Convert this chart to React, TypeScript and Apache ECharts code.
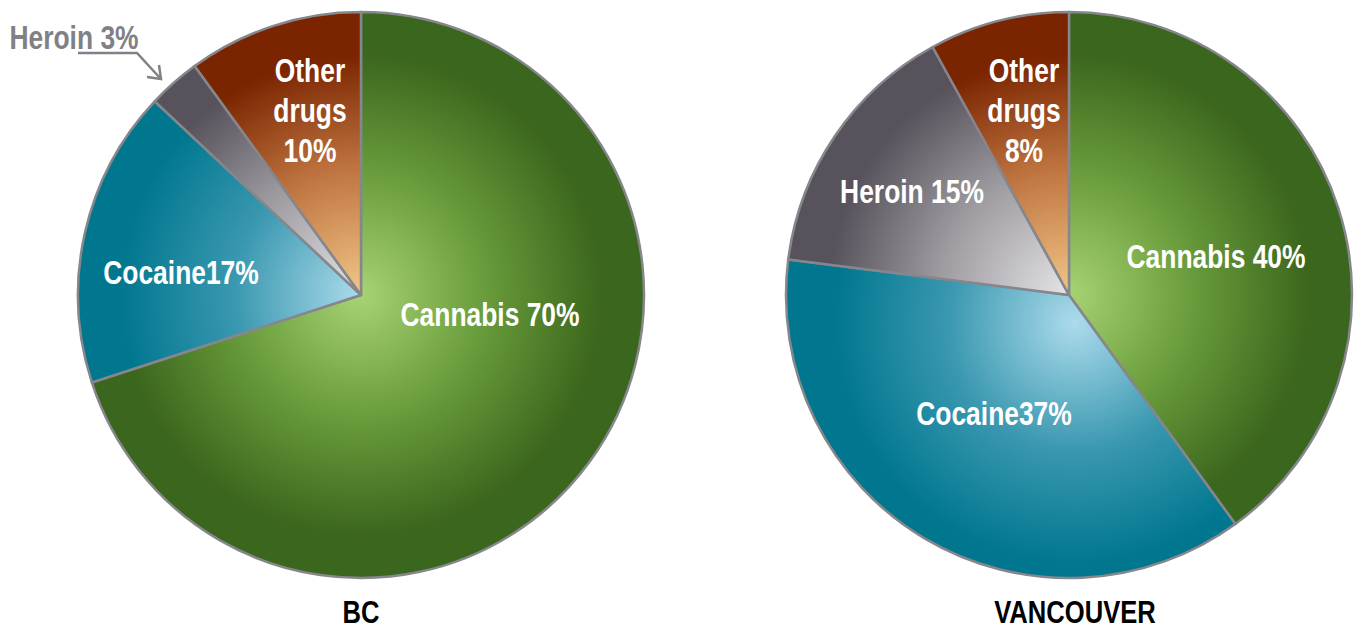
import React, { useEffect, useRef } from "react";
import * as echarts from "echarts";

const categories = ["Cannabis", "Cocaine", "Heroin", "Other drugs"];
const labelNames = ["Cannabis ", "Cocaine", "Heroin ", "Other\ndrugs\n"];
const bcValues = [70, 17, 3, 10];
const vanValues = [40, 37, 15, 8];
const pieTitles = ["BC", "VANCOUVER"];

const FONT = '"Liberation Sans", Arial, sans-serif';
const SX = 0.8;

const lightColors = ["#a7d373", "#acdbec", "#e4e4e6", "#f2c688"];
const midColors = ["#679a3a", "#3a98b0", "#9f9ca2", "#bf7440"];
const darkColors = ["#3b661d", "#00778f", "#57525b", "#7a2400"];

const CX = [361, 1069];
const CY = 295;
const R = 283;

const bcLabelPos = [[129, 19], [-180, -23], [-287, -258], [-51, -185]];
const vanLabelPos = [[147, -39], [-75, 118], [-157, -104], [-45, -185]];
const vanGradOffset = [[0, 0], [6, 28], [0, 0], [0, 0]];

function grad(i: number, cx: number, off: number[]) {
  return new echarts.graphic.RadialGradient(cx + off[0], CY + off[1], R, [
    { offset: 0, color: lightColors[i] },
    { offset: 0.45, color: midColors[i] },
    { offset: 0.85, color: darkColors[i] },
  ], true);
}

function makeSeries(values: number[], k: number) {
  const cx = CX[k];
  return {
    type: "pie",
    center: [cx, CY],
    radius: R,
    startAngle: 90,
    clockwise: true,
    silent: true,
    itemStyle: { borderColor: "#85878c", borderWidth: 2.5 },
    label: { show: false },
    labelLine: { show: false },
    data: values.map((v, i) => ({
      name: categories[i],
      value: v,
      itemStyle: { color: grad(i, cx, k === 1 ? vanGradOffset[i] : [0, 0]) },
    })),
  };
}

function makeLabels(values: number[], k: number, pos: number[][]) {
  return values.map((v, i) => {
    const outside = k === 0 && i === 2;
    return {
      type: "text",
      x: CX[k] + pos[i][0],
      y: CY + pos[i][1],
      scaleX: SX,
      z: 10,
      style: {
        text: labelNames[i] + v + "%",
        fontFamily: FONT,
        fontWeight: "bold",
        fontSize: 33,
        lineHeight: 40,
        fill: outside ? "#808184" : "#ffffff",
        textAlign: "center",
        textVerticalAlign: "middle",
      },
    };
  });
}

export default function App() {
  const ref = useRef<HTMLDivElement>(null);
  useEffect(() => {
    document.body.style.margin = "0";
    const chart = echarts.init(ref.current!, null, { renderer: "svg" });
    chart.setOption({
      animation: false,
      backgroundColor: "#ffffff",
      series: [makeSeries(bcValues, 0), makeSeries(vanValues, 1)],
      graphic: [
        ...makeLabels(bcValues, 0, bcLabelPos),
        ...makeLabels(vanValues, 1, vanLabelPos),
        {
          type: "polyline",
          shape: { points: [[78, 53], [137, 53], [160, 78]] },
          style: { stroke: "#808184", lineWidth: 2.5, fill: null },
        },
        {
          type: "polyline",
          shape: { points: [[147, 77], [161, 79], [159, 65]] },
          style: { stroke: "#808184", lineWidth: 2.5, fill: null },
        },
        ...pieTitles.map((t, k) => ({
          type: "text",
          x: k === 0 ? CX[0] : CX[1] + 6,
          y: 612,
          scaleX: SX,
          style: {
            text: t,
            fontFamily: FONT,
            fontWeight: "bold",
            fontSize: 32,
            fill: "#000000",
            textAlign: "center",
            textVerticalAlign: "middle",
          },
        })),
      ],
    });
    return () => chart.dispose();
  }, []);
  return <div ref={ref} style={{ width: 1362, height: 630 }} />;
}
